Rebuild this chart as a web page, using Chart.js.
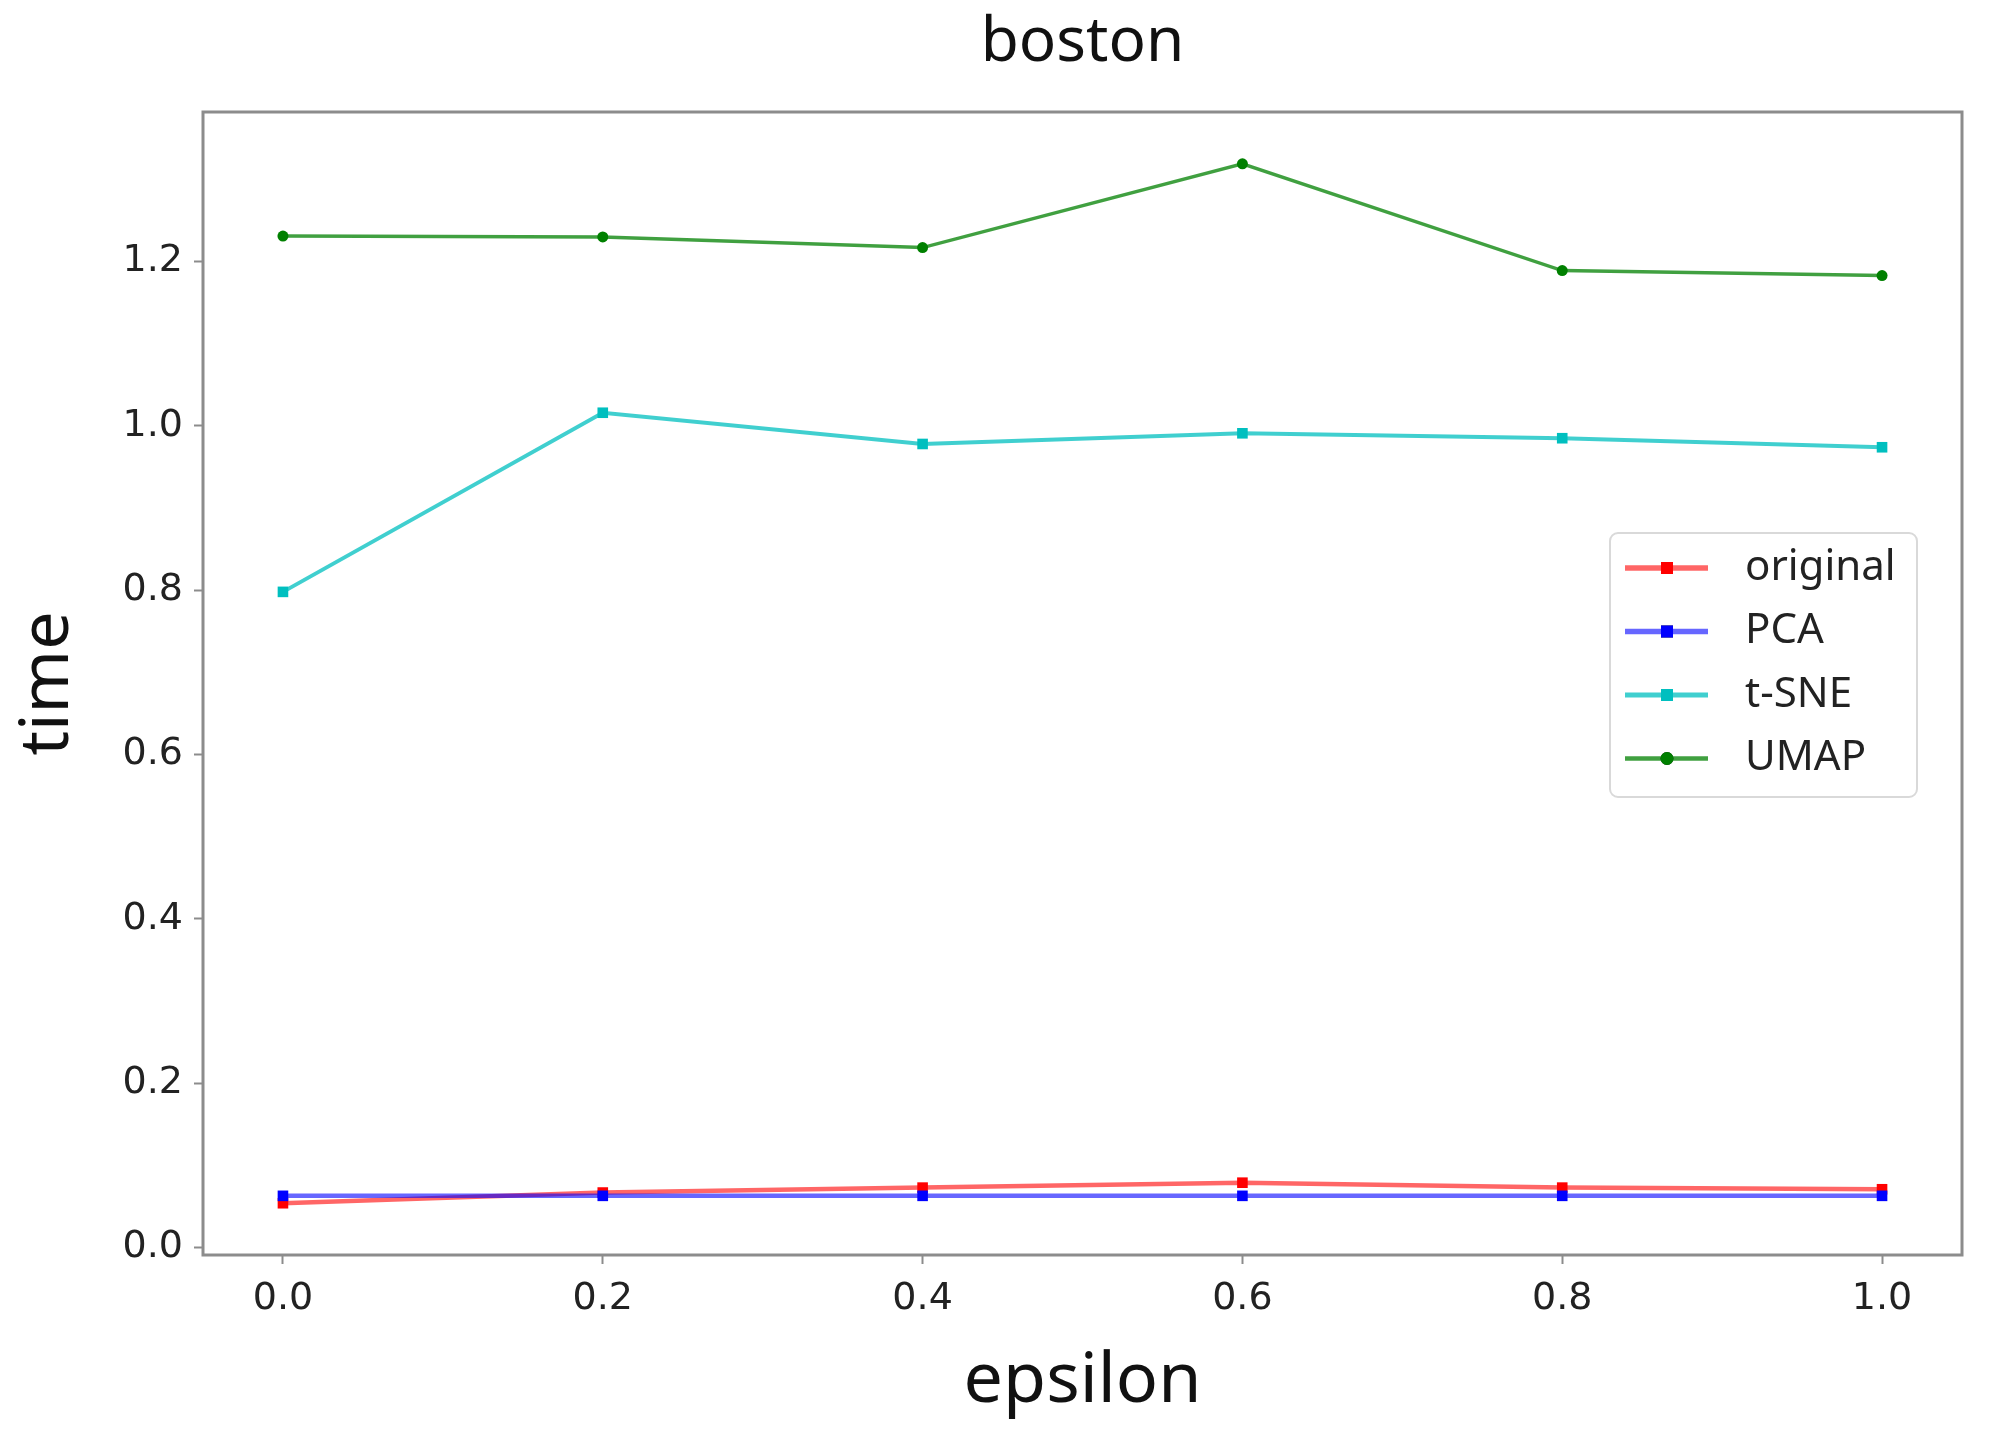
<!DOCTYPE html>
<html>
<head>
<meta charset="utf-8">
<script src="https://cdn.jsdelivr.net/npm/chart.js@4.4.0/dist/chart.umd.min.js"></script>
<style>
    html, body { margin: 0; padding: 0; background: #fff; }
</style>
</head>
<body>
<canvas id="chart" width="1991" height="1441"></canvas>
<script>
const epsilon = [0.0, 0.2, 0.4, 0.6, 0.8, 1.0],
    original = [0.054, 0.067, 0.073, 0.079, 0.073, 0.071],
    pca = [0.063, 0.063, 0.063, 0.063, 0.063, 0.063],
    tsne = [0.798, 1.016, 0.978, 0.991, 0.985, 0.974],
    umap = [1.231, 1.230, 1.217, 1.319, 1.189, 1.183],
    xTicks = [0.0, 0.2, 0.4, 0.6, 0.8, 1.0],
    yTicks = [0.0, 0.2, 0.4, 0.6, 0.8, 1.0, 1.2];

const axisGray = "#8c8c8c",
    labelFont = "Noto Sans";

function points(values) {
    return epsilon.map((x, i) => ({ x: x, y: values[i] }));
}

function series(label, values, line, marker, shape, width, order) {
    return {
        label: label,
        data: points(values),
        order: order,
        borderColor: line,
        borderWidth: width,
        backgroundColor: marker,
        pointBackgroundColor: marker,
        pointBorderColor: marker,
        pointBorderWidth: 0,
        pointStyle: shape,
        pointRadius: shape === "rect" ? 7.5 : 5.5,
        tension: 0,
        fill: false,
    };
}

// matplotlib style box around the plot area
const frame = {
    id: "frame",
    afterDatasetsDraw(chart) {
        const { ctx, chartArea: a } = chart;
        ctx.save();
        ctx.strokeStyle = axisGray;
        ctx.lineWidth = 3;
        ctx.strokeRect(a.left, a.top, a.right - a.left, a.bottom - a.top);
        ctx.restore();
    }
};

// legend drawn inside the plot area, right side
const legendBox = {
    id: "legendBox",
    afterDraw(chart) {
        const { ctx, chartArea: a } = chart;
        const w = 307, h = 264,
            x = a.right - 45 - w,
            y = a.top + 421;
        ctx.save();
        ctx.beginPath();
        ctx.roundRect(x, y, w, h, 8);
        ctx.fillStyle = "rgba(255,255,255,0.85)";
        ctx.fill();
        ctx.strokeStyle = "#d9d9d9";
        ctx.lineWidth = 2;
        ctx.stroke();
        chart.data.datasets.forEach((ds, i) => {
            const cy = y + 35 + i * 63.5;
            ctx.strokeStyle = ds.borderColor;
            ctx.lineWidth = ds.borderWidth + 1;
            ctx.beginPath();
            ctx.moveTo(x + 15, cy);
            ctx.lineTo(x + 98, cy);
            ctx.stroke();
            Chart.helpers.drawPoint(ctx, {
                pointStyle: ds.pointStyle,
                radius: ds.pointRadius + 1,
                borderWidth: 0,
                rotation: 0
            }, x + 57, cy);
            ctx.fillStyle = ds.pointBackgroundColor;
            ctx.fill();
            ctx.fillStyle = "#222";
            ctx.font = "42px '" + labelFont + "'";
            ctx.textBaseline = "middle";
            ctx.textAlign = "left";
            ctx.fillText(ds.label, x + 135, cy);
        });
        ctx.restore();
    }
};

new Chart(document.getElementById("chart"), {
    type: "line",
    data: {
        datasets: [
            series("original", original, "rgba(255,0,0,0.6)", "#ff0000", "rect", 4.5, 4),
            series("PCA", pca, "rgba(0,0,255,0.6)", "#0000ff", "rect", 4.5, 3),
            series("t-SNE", tsne, "rgba(0,191,191,0.75)", "#00bfbf", "rect", 4, 2),
            series("UMAP", umap, "rgba(0,128,0,0.75)", "#008000", "circle", 3.5, 1),
        ]
    },
    options: {
        responsive: false,
        animation: false,
        layout: { padding: { right: 29 } },
        plugins: {
            legend: { display: false },
            tooltip: { enabled: false },
            title: {
                display: true,
                fullSize: false,
                text: "boston",
                color: "#111",
                font: { family: labelFont, size: 62, weight: "normal", lineHeight: 1.2 },
                padding: { top: 6, bottom: 31.6 }
            }
        },
        scales: {
            x: {
                type: "linear",
                min: -0.05,
                max: 1.05,
                afterFit: (s) => { s.height = 186; },
                afterBuildTicks: (s) => { s.ticks = xTicks.map(v => ({ value: v })); },
                grid: { drawOnChartArea: false, drawTicks: true, tickLength: 9, tickWidth: 2, color: axisGray },
                border: { display: false },
                ticks: {
                    padding: 12,
                    color: "#222",
                    font: { family: "DejaVu Sans", size: 38 },
                    callback: (v) => v.toFixed(1)
                },
                title: {
                    display: true,
                    text: "epsilon",
                    color: "#111",
                    font: { family: labelFont, size: 70, lineHeight: 1.2 },
                    padding: { top: 0, bottom: 17 }
                }
            },
            y: {
                type: "linear",
                min: -0.009,
                max: 1.382,
                afterFit: (s) => { s.width = 203; },
                afterBuildTicks: (s) => { s.ticks = yTicks.map(v => ({ value: v })); },
                grid: { drawOnChartArea: false, drawTicks: true, tickLength: 9, tickWidth: 2, color: axisGray },
                border: { display: false },
                ticks: {
                    padding: 11,
                    color: "#222",
                    font: { family: "DejaVu Sans", size: 38 },
                    callback: (v) => v.toFixed(1)
                },
                title: {
                    display: true,
                    text: "time",
                    color: "#111",
                    font: { family: labelFont, size: 68, lineHeight: 1.2 },
                    padding: { top: 8, bottom: 0 }
                }
            }
        }
    },
    plugins: [frame, legendBox]
});
</script>
</body>
</html>
